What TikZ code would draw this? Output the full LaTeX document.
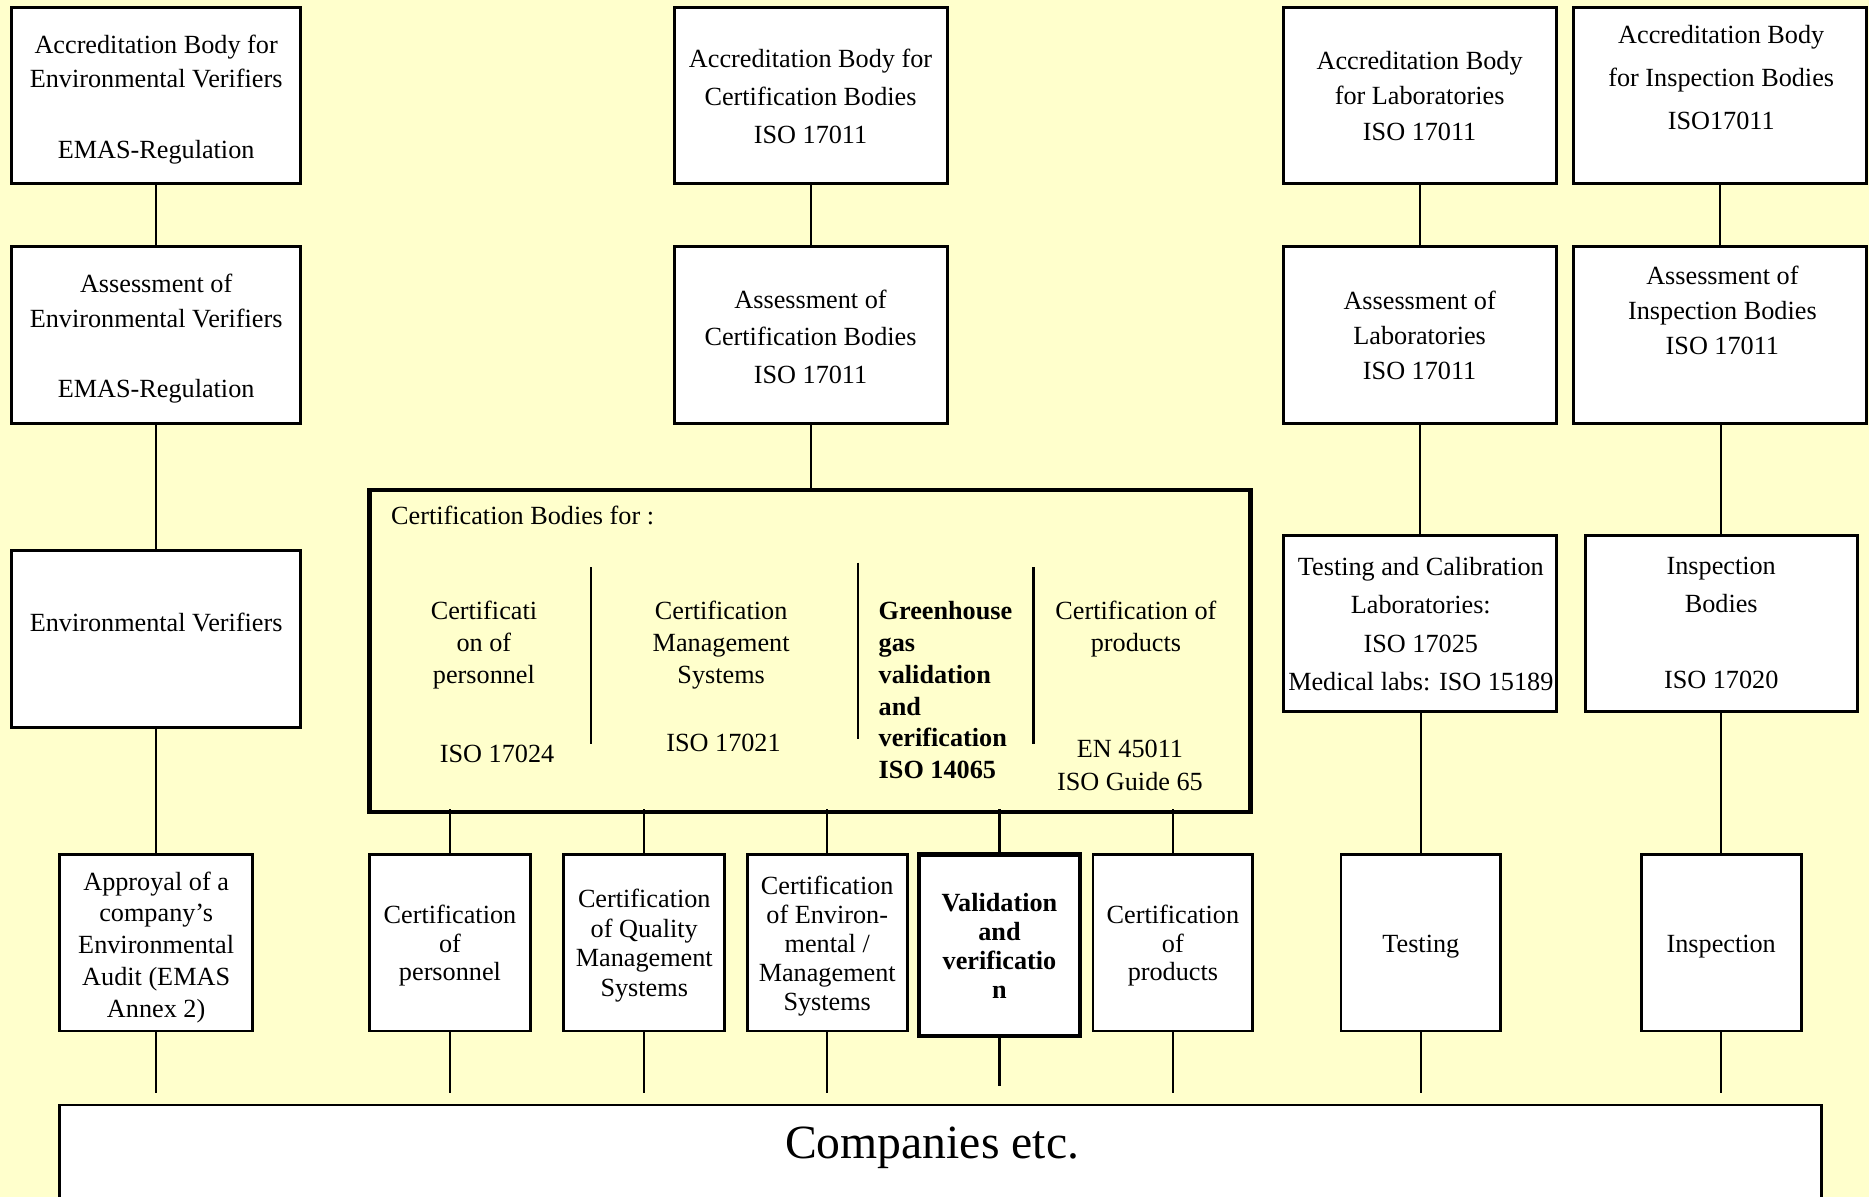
\documentclass[tikz,border=0pt]{standalone}
\usepackage{fontspec}
\setmainfont{Liberation Serif}
\definecolor{bg}{RGB}{255,255,204}
\newcommand\bx[6][box]{\node[#1, minimum width={#5-#3}, minimum height={#6-#4}] (#2) at ({(#3+#5)/2},{(#4+#6)/2}) {};}
\newcommand\tx[5][29]{\node[txt, font={\fontsize{22}{#1}\selectfont}, anchor=north] (#2) at (#3,{#4-8}) {#5};}
\begin{document}
\begin{tikzpicture}[x=1pt,y=-1pt,
  box/.style={draw=black, fill=white, line width=2.4pt, inner sep=0pt},
  thickbox/.style={box, line width=3.8pt},
  cbbox/.style={draw=black, line width=3.6pt, inner sep=0pt},
  conn/.style={draw=black, line width=2pt},
  txt/.style={inner sep=0pt, align=center, font={\fontsize{22}{29}\selectfont}},
]
\fill[bg] (0,0) rectangle (1568,1004);
\useasboundingbox (0,0) rectangle (1568,1004);
% boxes
\bx{a1}{10}{6}{252}{154}
\bx{b1}{566}{6}{795}{154}
\bx{c1}{1077}{6}{1306}{154}
\bx{d1}{1320}{6}{1566}{154}
\bx{a2}{10}{207}{252}{355}
\bx{b2}{566}{207}{795}{355}
\bx{c2}{1077}{207}{1306}{355}
\bx{d2}{1320}{207}{1566}{355}
\bx{a3}{10}{462}{252}{610}
\bx[cbbox]{cb}{310}{411}{1049}{681}
\bx{c3}{1077}{449}{1306}{597}
\bx{d3}{1330}{449}{1558}{597}
\bx{a4}{50}{717}{212}{865}
\bx{p1}{310}{717}{445}{865}
\bx{p2}{473}{717}{608}{865}
\bx{p3}{627}{717}{761}{865}
\bx[thickbox]{p4}{771}{717}{906}{869}
\bx{p5}{917}{717}{1051}{865}
\bx{c4}{1125}{717}{1259}{865}
\bx{d4}{1377}{717}{1511}{865}
\bx{comp}{50}{927}{1528}{1040}
% connectors
\draw[conn] (a1) -- (a2);
\draw[conn] (b1) -- (b2);
\draw[conn] (c1) -- (c2);
\draw[conn] (d1) -- (d2);
\draw[conn] (a2) -- (a3);
\draw[conn] (b2.south) -- (b2.south |- cb.north);
\draw[conn] (c3.north) -- (c3.north |- c2.south);
\draw[conn] (d3.north) -- (d3.north |- d2.south);
\draw[conn] (a3) -- (a4);
\draw[conn] (c4.north) -- (c4.north |- c3.south);
\draw[conn] (d3) -- (d4);
\foreach \n in {p1,p2,p3,p4,p5} \draw[conn] (\n.north) -- ([yshift=4pt]\n.north |- cb.south);
\foreach \n in {a4,p1,p2,p3,p5,c4,d4} \draw[conn, shorten >=9pt] (\n.south) -- (\n.south |- comp.north);
\draw[conn, shorten >=15pt] (p4.south) -- (p4.south |- comp.north);
% dividers inside the certification bodies box
\draw[conn] (496,476) -- (496,624);
\draw[conn] (720,472) -- (720,620);
\draw[conn] (867,476) -- (867,624);
% texts
\tx{ta1}{131}{37}{Accreditation Body for\\Environmental Verifiers\\[30pt]EMAS-Regulation}
\tx[32]{tb1}{680}{49}{Accreditation Body for\\Certification Bodies\\ISO 17011}
\tx[29.5]{tc1}{1191}{51}{Accreditation Body\\for Laboratories\\ISO 17011}
\tx[36]{td1}{1444}{29}{Accreditation Body\\for Inspection Bodies\\ISO17011}
\tx{ta2}{131}{238}{Assessment of\\Environmental Verifiers\\[30pt]EMAS-Regulation}
\tx[31.5]{tb2}{680}{251}{Assessment of\\Certification Bodies\\ISO 17011}
\tx[29.5]{tc2}{1191}{252}{Assessment of\\Laboratories\\ISO 17011}
\tx[29.5]{td2}{1445}{231}{Assessment of\\Inspection Bodies\\ISO 17011}
\tx{ta3}{131}{522}{Environmental Verifiers}
\node[txt, anchor=north west] (tcb) at (328,424) {Certification Bodies for :};
\tx[27]{tk1}{406}{512}{Certificati\\on of\\personnel}
\tx{tk1b}{417}{633}{ISO 17024}
\tx[27]{tk2}{605}{512}{Certification\\Management\\Systems}
\tx{tk2b}{607}{624}{ISO 17021}
\node[txt, align=left, anchor=north west, font={\fontsize{22}{26.8}\selectfont\bfseries}] (tk3) at (737,504) {Greenhouse\\gas\\validation\\and\\verification\\ISO 14065};
\tx[27]{tk4}{953}{512}{Certification of\\products}
\tx[27]{tk4b}{948}{629}{EN 45011\\ISO Guide 65}
\tx[32.3]{tc3}{1192}{475}{Testing and Calibration\\Laboratories:\\ISO 17025\\Medical labs: ISO 15189}
\tx[32]{td3}{1444}{475}{Inspection\\Bodies\\[32pt]ISO 17020}
\tx[26.75]{ta4}{131}{739}{Approyal of a\\company’s\\Environmental\\Audit (EMAS\\Annex 2)}
\tx[24]{tp1}{377.5}{767}{Certification\\of\\personnel}
\tx[24.7]{tp2}{540.5}{754}{Certification\\of Quality\\Management\\Systems}
\tx[24.25]{tp3}{694}{743}{Certification\\of Environ-\\mental /\\Management\\Systems}
\node[txt, font={\fontsize{22}{24.3}\selectfont\bfseries}, anchor=north] (tp4) at (838.5,749) {Validation\\and\\verificatio\\n};
\tx[24]{tp5}{984}{767}{Certification\\of\\products}
\tx{tc4}{1192}{792}{Testing}
\tx{td4}{1444}{792}{Inspection}
\node[txt, font={\fontsize{40}{48}\selectfont}, anchor=base] (tcomp) at (782,972) {Companies etc.};
\end{tikzpicture}
\end{document}
